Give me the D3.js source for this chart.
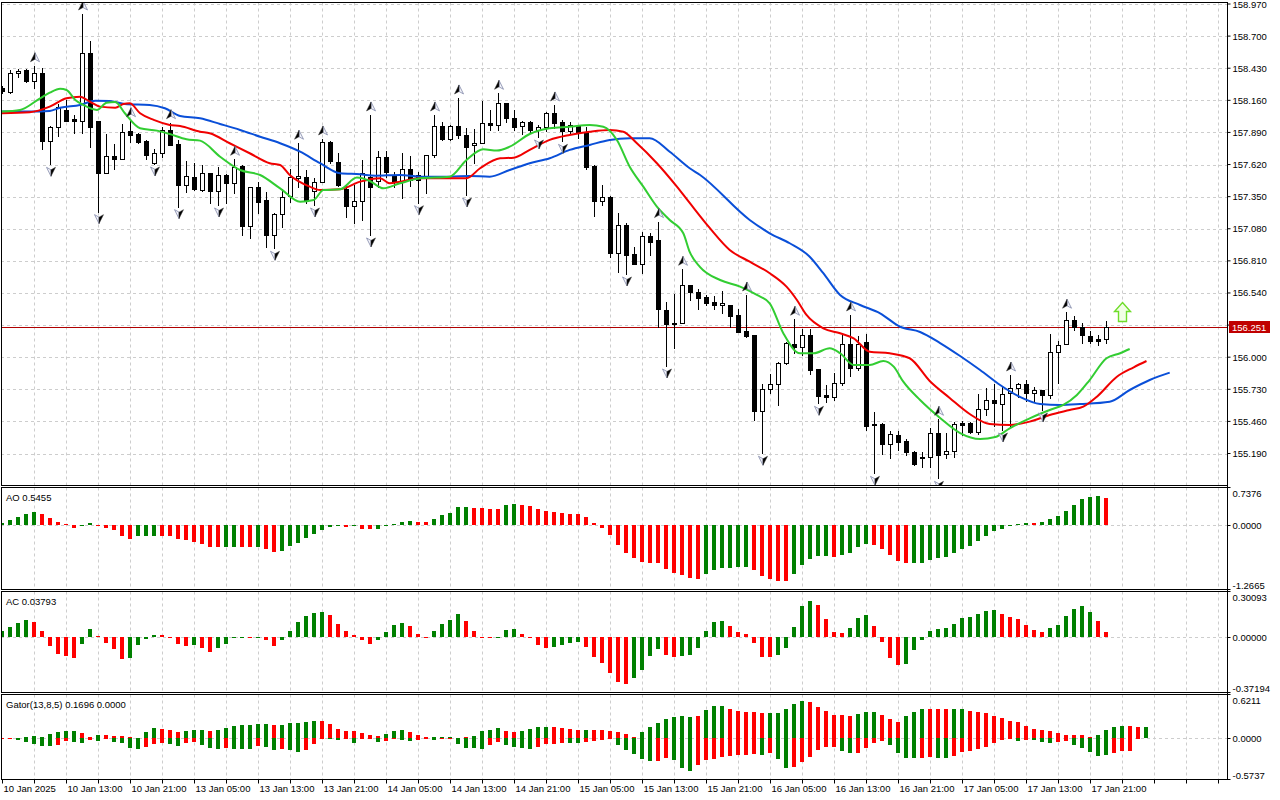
<!DOCTYPE html>
<html><head><meta charset="utf-8"><title>USDJPY H1 - Alligator, AO, AC, Gator</title>
<script src="https://cdn.jsdelivr.net/npm/d3@7/dist/d3.min.js"></script>
<style>
html,body{margin:0;padding:0;background:#fff;overflow:hidden}
text{font-family:"Liberation Sans",Arial,sans-serif;font-size:9.5px;fill:#000}
</style></head><body>
<svg id="chart" width="1280" height="800" xmlns="http://www.w3.org/2000/svg"></svg>
<script>
// ---------------- DATA ----------------
const timeLabels = ["10 Jan 2025","10 Jan 13:00","10 Jan 21:00","13 Jan 05:00","13 Jan 13:00","13 Jan 21:00",
  "14 Jan 05:00","14 Jan 13:00","14 Jan 21:00","15 Jan 05:00","15 Jan 13:00","15 Jan 21:00",
  "16 Jan 05:00","16 Jan 13:00","16 Jan 21:00","17 Jan 05:00","17 Jan 13:00","17 Jan 21:00"];
const timeLabelBars = [0,8,16,24,32,40,48,56,64,72,80,88,96,104,112,120,128,136];
const priceTicks = [158.970,158.700,158.430,158.160,157.890,157.620,157.350,157.080,156.810,156.540,156.270,156.000,155.730,155.460,155.190];
const lastPrice = 156.251;

const opens = [
 158.264,158.233,158.388,158.415,158.325,158.388,157.821,157.933,158.079,158.001,
 157.989,158.556,157.986,157.552,157.692,157.669,157.902,157.877,157.821,157.631,
 157.715,157.911,157.793,157.446,157.513,157.406,157.547,157.400,157.535,157.462,
 157.608,157.103,157.429,157.322,157.028,157.204,157.356,157.507,157.518,157.400,
 157.476,157.812,157.644,157.412,157.272,157.316,157.518,157.484,157.686,157.532,
 157.484,157.580,157.532,157.524,157.698,157.944,157.833,157.944,157.869,157.782,
 157.804,157.972,157.950,158.135,158.009,157.944,157.981,157.911,157.933,158.051,
 157.978,157.900,157.944,157.896,157.608,157.316,157.345,156.879,157.112,156.868,
 156.784,157.019,156.986,156.397,156.290,156.285,156.607,156.551,156.504,156.467,
 156.436,156.439,156.355,156.220,156.187,155.550,155.730,155.775,155.949,156.111,
 156.088,156.187,155.901,155.682,155.663,155.780,156.111,155.907,156.125,155.438,
 155.438,155.270,155.346,155.298,155.205,155.163,155.158,155.360,155.183,155.211,
 155.449,155.444,155.374,155.562,155.640,155.606,155.701,155.738,155.772,155.696,
 155.724,155.682,156.046,156.108,156.313,156.256,156.181,156.151,156.151];
const highs = [
 158.281,158.415,158.424,158.424,158.451,158.430,157.947,158.129,158.163,158.037,
 158.886,158.659,157.986,157.877,157.793,157.961,157.989,157.886,157.827,157.751,
 157.933,157.972,157.827,157.647,157.636,157.619,157.549,157.602,157.541,157.664,
 157.619,157.434,157.476,157.392,157.210,157.412,157.580,157.799,157.574,157.507,
 157.835,157.818,157.715,157.448,157.448,157.658,158.037,157.737,157.737,157.560,
 157.720,157.692,157.557,157.700,158.037,157.981,157.953,158.180,157.925,157.917,
 158.155,158.079,158.219,158.140,158.079,157.986,157.990,157.953,158.065,158.121,
 157.995,157.981,157.953,157.938,157.616,157.448,157.356,157.210,157.126,156.929,
 157.055,157.042,157.140,156.467,156.531,156.739,156.607,156.571,156.523,156.515,
 156.557,156.439,156.403,156.523,156.187,155.775,155.859,155.962,156.128,156.319,
 156.235,156.235,155.901,155.766,155.870,156.187,156.355,156.178,156.195,155.542,
 155.447,155.382,155.382,155.310,155.211,155.205,155.402,155.478,155.360,155.458,
 155.463,155.458,155.688,155.738,155.772,155.749,155.850,155.780,155.808,155.747,
 155.724,156.195,156.139,156.378,156.346,156.285,156.223,156.187,156.307];
const lows = [
 158.222,158.224,158.354,158.317,158.261,157.748,157.622,157.863,157.986,157.888,
 157.883,157.765,157.224,157.547,157.580,157.664,157.812,157.799,157.664,157.625,
 157.686,157.785,157.266,157.389,157.406,157.400,157.300,157.280,157.294,157.383,
 157.028,157.005,157.210,156.930,156.916,157.097,157.308,157.434,157.297,157.280,
 157.473,157.633,157.440,157.182,157.126,157.154,157.028,157.434,157.518,157.434,
 157.336,157.440,157.299,157.378,157.686,157.827,157.827,157.841,157.364,157.631,
 157.802,157.911,157.911,157.981,157.911,157.877,157.883,157.852,157.905,157.928,
 157.815,157.888,157.841,157.580,157.187,157.280,156.840,156.719,156.700,156.780,
 156.706,156.859,156.251,155.926,156.075,156.285,156.481,156.403,156.439,156.403,
 156.369,156.256,156.214,156.172,155.472,155.192,155.701,155.598,155.943,156.033,
 156.018,155.859,155.612,155.626,155.640,155.766,155.842,155.892,155.388,155.023,
 155.186,155.150,155.220,155.178,155.093,155.079,155.079,154.981,155.150,155.158,
 155.346,155.360,155.354,155.514,155.424,155.388,155.415,155.668,155.634,155.634,
 155.556,155.654,155.780,156.108,156.229,156.122,156.122,156.102,156.122];
const closes = [
 158.239,158.388,158.409,158.325,158.388,157.821,157.933,158.102,157.989,157.989,
 158.556,157.938,157.552,157.692,157.669,157.896,157.869,157.810,157.703,157.715,
 157.911,157.787,157.446,157.524,157.412,157.547,157.400,157.530,157.462,157.602,
 157.103,157.429,157.308,157.028,157.204,157.350,157.518,157.524,157.322,157.476,
 157.812,157.653,157.448,157.274,157.316,157.547,157.434,157.686,157.560,157.484,
 157.580,157.490,157.490,157.698,157.944,157.833,157.944,157.869,157.770,157.799,
 157.967,157.950,158.135,158.009,157.938,157.981,157.911,157.936,158.051,157.972,
 157.905,157.953,157.888,157.597,157.316,157.345,156.879,157.112,156.859,156.784,
 157.019,156.971,156.403,156.279,156.279,156.607,156.551,156.495,156.458,156.439,
 156.453,156.346,156.214,156.178,155.550,155.730,155.775,155.949,156.117,156.088,
 156.187,155.892,155.674,155.663,155.780,156.111,155.907,156.111,155.424,155.427,
 155.270,155.354,155.289,155.200,155.099,155.155,155.360,155.177,155.211,155.438,
 155.432,155.374,155.562,155.640,155.612,155.690,155.738,155.772,155.696,155.724,
 155.682,156.046,156.103,156.313,156.256,156.187,156.136,156.136,156.251];

const upFractals = [4,10,16,21,29,37,40,46,54,57,62,69,82,85,93,99,106,117,126,133];
const downFractals = [6,12,19,22,27,34,39,46,52,58,67,70,78,83,95,102,109,117,125,130];
const signalArrow = {bar:140, price:156.38};

// Alligator lines: [bar position, price]
const jawLine = [[-0.3,158.065],[3.4,158.065],[5.9,158.071],[7.2,158.098],[9.7,158.121],[11.6,158.157],[13.4,158.155],[15.3,158.129],[18.4,158.121],[20.3,158.093],[22.2,158.028],[24.7,158.009],[27.2,157.961],[29.7,157.911],[32.2,157.854],[34.7,157.799],[37.2,157.728],[39.7,157.631],[42.2,157.547],[44.7,157.538],[46.6,157.526],[49.7,157.532],[52.2,157.518],[55.9,157.518],[58.4,157.524],[60.9,157.518],[63.4,157.574],[65.9,157.631],[68.4,157.673],[70.9,157.743],[73.4,157.785],[75.9,157.827],[78.4,157.841],[80.9,157.841],[83.4,157.728],[85.9,157.589],[87.2,157.532],[93.4,157.154],[95.9,157.042],[98.4,156.958],[100.9,156.845],[102.6,156.706],[104.7,156.523],[107.2,156.439],[109.7,156.369],[112.2,156.256],[114.7,156.212],[117.2,156.119],[119.7,156.010],[122.2,155.892],[124.7,155.766],[127.2,155.665],[129.7,155.606],[132.2,155.598],[134.7,155.606],[138.4,155.626],[140.9,155.724],[143.4,155.808],[145.9,155.870]];
const teethLine = [[-0.3,158.051],[3.4,158.060],[5.9,158.107],[8.0,158.177],[9.7,158.191],[10.9,158.149],[12.2,158.107],[14.1,158.098],[15.1,158.129],[15.9,158.135],[17.2,158.051],[18.9,157.995],[20.9,157.953],[22.2,157.944],[24.7,157.896],[25.9,157.883],[28.4,157.799],[30.9,157.715],[33.4,157.631],[34.7,157.616],[35.9,157.532],[38.4,157.434],[39.7,157.406],[42.2,157.412],[44.7,157.476],[47.2,157.505],[48.4,157.462],[49.7,157.476],[52.2,157.505],[58.0,157.505],[59.7,157.589],[62.2,157.673],[63.9,157.678],[65.9,157.743],[68.4,157.827],[70.9,157.869],[73.4,157.896],[75.9,157.911],[77.6,157.896],[79.3,157.799],[81.8,157.631],[84.3,157.434],[85.9,157.297],[88.4,157.087],[90.9,156.902],[93.4,156.803],[95.9,156.706],[98.0,156.593],[99.3,156.481],[100.5,156.355],[102.6,156.243],[104.7,156.201],[106.4,156.159],[108.4,156.046],[110.9,156.033],[113.4,155.991],[115.9,155.800],[118.4,155.657],[120.9,155.522],[123.4,155.438],[125.9,155.430],[128.4,155.458],[130.9,155.514],[133.4,155.556],[135.1,155.584],[136.8,155.668],[139.3,155.836],[141.4,155.915],[143.0,155.968]];
const lipsLine = [[-0.3,158.065],[2.2,158.079],[4.7,158.177],[5.9,158.224],[7.2,158.258],[8.0,158.247],[9.1,158.163],[10.1,158.121],[11.8,158.079],[13.0,158.140],[14.1,158.146],[15.3,158.051],[17.2,157.925],[19.3,157.905],[20.9,157.877],[23.0,157.833],[24.7,157.821],[27.2,157.686],[29.7,157.574],[32.2,157.532],[34.7,157.420],[37.2,157.308],[38.9,157.322],[40.1,157.406],[42.2,157.412],[44.3,157.510],[45.9,157.482],[47.6,157.420],[49.7,157.462],[52.2,157.505],[55.9,157.518],[58.0,157.658],[60.1,157.748],[61.8,157.737],[63.4,157.770],[65.9,157.877],[68.4,157.925],[70.9,157.938],[73.4,157.953],[75.1,157.938],[76.8,157.827],[78.4,157.602],[80.1,157.434],[81.8,157.266],[83.4,157.154],[85.1,157.042],[85.9,156.885],[87.2,156.758],[89.7,156.649],[92.2,156.593],[94.3,156.523],[95.9,156.453],[97.6,156.201],[99.7,156.033],[101.4,156.033],[103.4,156.075],[104.7,156.033],[106.4,155.934],[108.4,155.934],[110.1,155.968],[111.4,155.920],[112.6,155.794],[114.7,155.640],[117.2,155.489],[119.7,155.362],[122.2,155.312],[124.1,155.329],[125.9,155.402],[128.4,155.486],[130.9,155.556],[132.6,155.598],[134.3,155.682],[135.9,155.808],[138.0,155.991],[139.7,156.033],[140.9,156.069]];

// Awesome Oscillator
const aoValues = [
 0.03,0.087,0.147,0.22,0.247,0.22,0.127,0.06,0.007,-0.067,
 -0.005,0.04,-0.02,-0.06,-0.114,-0.227,-0.28,-0.234,-0.227,-0.227,
 -0.227,-0.227,-0.28,-0.314,-0.34,-0.38,-0.454,-0.454,-0.454,-0.44,
 -0.454,-0.454,-0.454,-0.481,-0.541,-0.521,-0.434,-0.361,-0.274,-0.194,
 -0.114,-0.053,-0.033,-0.053,-0.033,-0.08,-0.094,-0.094,-0.027,0.02,
 0.06,0.08,0.06,0.06,0.12,0.2,0.24,0.361,0.361,0.341,
 0.341,0.321,0.321,0.40,0.42,0.40,0.381,0.321,0.281,0.26,
 0.24,0.22,0.22,0.16,0.04,-0.06,-0.214,-0.401,-0.561,-0.661,
 -0.741,-0.762,-0.768,-0.882,-0.962,-1.002,-1.062,-1.082,-0.982,-0.902,
 -0.862,-0.862,-0.842,-0.842,-0.902,-1.022,-1.082,-1.122,-1.122,-0.995,
 -0.815,-0.695,-0.635,-0.635,-0.655,-0.615,-0.561,-0.454,-0.381,-0.414,
 -0.494,-0.615,-0.721,-0.775,-0.762,-0.762,-0.701,-0.675,-0.648,-0.574,
 -0.488,-0.434,-0.334,-0.234,-0.127,-0.094,-0.013,0.007,0.033,0.033,
 0.06,0.12,0.18,0.281,0.40,0.521,0.561,0.581,0.5455];
const aoColors = "gggggrrrrr"+"ggrrrrrggg"+"rrrrrrrrgg"+"rrgrrggggg"+"gggrgrrggg"+"ggrrgggggr"+"rrrggrrrrr"+"rrrrrrrrrr"+"rrrrrrrrgg"+"ggggrrrrrg"+"ggggrggggr"+"rrrrgggggg"+"gggggggggr"+"ggggggggr";

// Accelerator Oscillator
const acValues = [
 0.045,0.067,0.096,0.117,0.105,0.043,-0.058,-0.112,-0.126,-0.139,
 -0.045,0.052,0.007,-0.036,-0.079,-0.146,-0.139,-0.049,-0.009,0.016,
 0.016,-0.004,-0.045,-0.058,-0.052,-0.072,-0.099,-0.072,-0.045,-0.002,
 0.004,-0.007,0.001,-0.018,-0.058,-0.022,0.043,0.105,0.141,0.164,
 0.17,0.15,0.09,0.043,0.013,-0.022,-0.045,-0.022,0.036,0.083,
 0.096,0.076,0.022,0.004,0.043,0.09,0.117,0.157,0.11,0.043,
 -0.002,-0.007,-0.007,0.049,0.056,0.022,-0.004,-0.049,-0.072,-0.065,
 -0.052,-0.038,-0.031,-0.065,-0.132,-0.173,-0.24,-0.30,-0.314,-0.274,
 -0.22,-0.126,-0.079,-0.119,-0.132,-0.126,-0.119,-0.072,0.043,0.103,
 0.11,0.076,0.036,0.022,-0.036,-0.132,-0.132,-0.117,-0.072,0.07,
 0.211,0.245,0.218,0.123,0.036,0.029,0.063,0.13,0.15,0.076,
 -0.029,-0.137,-0.19,-0.177,-0.083,-0.022,0.043,0.056,0.063,0.09,
 0.13,0.137,0.157,0.177,0.184,0.157,0.137,0.123,0.083,0.049,
 0.036,0.063,0.083,0.144,0.191,0.211,0.17,0.11,0.03793];
const acColors = "ggggrrrrrr"+"ggrrrrgggg"+"rrrrgrrggg"+"grgrrggggg"+"grrrrrrggg"+"grrrggggrr"+"rrgggrrrrg"+"gggrrrrrrg"+"gggrrggggg"+"grrrrrrggg"+"ggrrrrgggr"+"rrrggggggg"+"gggggrrrrr"+"rggggggrrr";

// Gator oscillator (upper = |jaw-teeth|, lower = -|teeth-lips|)
const gatorUpper = [
 0.003,0.01,0.01,0.015,0.03,0.025,0.063,0.092,0.106,0.106,
 0.077,0.015,0.043,0.048,0.029,0.029,0.015,0.003,0.092,0.15,
 0.135,0.116,0.092,0.106,0.116,0.116,0.106,0.116,0.15,0.179,
 0.193,0.193,0.208,0.208,0.193,0.193,0.217,0.222,0.237,0.251,
 0.251,0.208,0.135,0.106,0.101,0.077,0.048,0.034,0.063,0.106,
 0.121,0.092,0.048,0.015,0.015,0.015,0.015,0.003,0.015,0.029,
 0.101,0.121,0.15,0.106,0.092,0.106,0.135,0.164,0.164,0.164,
 0.15,0.135,0.121,0.121,0.116,0.116,0.106,0.092,0.063,0.019,
 0.092,0.164,0.222,0.28,0.309,0.324,0.309,0.324,0.411,0.469,
 0.469,0.425,0.396,0.377,0.372,0.362,0.362,0.362,0.42,0.498,
 0.536,0.522,0.449,0.391,0.333,0.333,0.319,0.348,0.377,0.377,
 0.333,0.275,0.237,0.319,0.377,0.42,0.42,0.42,0.42,0.42,
 0.42,0.391,0.377,0.362,0.319,0.29,0.246,0.237,0.174,0.135,
 0.116,0.101,0.077,0.048,0.048,0.048,0.019,0.048,0.121,0.164,
 0.184,0.184,0.165,0.1696];
const gatorUpperColors = "rrgggggggg"+"rrgrrrrrgg"+"rrrgggrggg"+"ggggrggggg"+"rrrrrrrrgg"+"grrrgggrrg"+"gggrrggggr"+"rrrgrrrrrr"+"gggggggrggg".slice(0,10)+"grrrrrgggg"+"grrrrrrggg"+"rrrgggrrrg"+"grrrrrrrrr"+"rrrrrrrggg"+"grrg";
const gatorLower = [
 -0.003,-0.005,-0.024,-0.053,-0.082,-0.111,-0.111,-0.097,-0.039,-0.053,
 -0.068,-0.024,-0.039,-0.01,-0.053,-0.068,-0.14,-0.155,-0.126,-0.082,
 -0.068,-0.082,-0.111,-0.068,-0.053,-0.097,-0.14,-0.155,-0.14,-0.155,
 -0.155,-0.155,-0.111,-0.126,-0.169,-0.155,-0.16,-0.198,-0.169,-0.082,
 -0.005,-0.01,-0.024,-0.005,-0.068,-0.01,-0.015,-0.053,-0.039,-0.015,
 -0.024,-0.039,-0.024,-0.005,-0.024,-0.005,-0.005,-0.082,-0.14,-0.14,
 -0.155,-0.097,-0.053,-0.097,-0.126,-0.14,-0.155,-0.126,-0.082,-0.082,
 -0.068,-0.068,-0.068,-0.053,-0.039,-0.024,-0.01,-0.097,-0.169,-0.227,
 -0.30,-0.329,-0.329,-0.285,-0.314,-0.43,-0.473,-0.386,-0.314,-0.30,
 -0.271,-0.256,-0.242,-0.235,-0.227,-0.242,-0.213,-0.30,-0.43,-0.415,
 -0.343,-0.271,-0.169,-0.126,-0.126,-0.184,-0.213,-0.213,-0.14,-0.068,
 -0.039,-0.097,-0.213,-0.285,-0.285,-0.285,-0.271,-0.285,-0.285,-0.256,
 -0.198,-0.184,-0.155,-0.121,-0.068,-0.024,-0.01,-0.039,-0.024,-0.024,
 -0.053,-0.068,-0.053,-0.039,-0.097,-0.14,-0.198,-0.256,-0.242,-0.213,
 -0.183,-0.183,-0.005,0];
const gatorLowerColors = "rrgggggrrg"+"grgrggggrr"+"rggrrgggrg"+"ggrggrggrr"+"rggrgrrgrr"+"ggrrgrrggg"+"grrggggrrr"+"rggrrrrggg"+"ggrrgggrrr"+"rrrrrgrggr"+"rrrrrggrrr"+"rggggrrggr"+"rrrrrrrgrg"+"ggrrgggggrr".slice(0,10)+"rrrr";

// ---------------- CHART ----------------
const GREEN = "#008000", RED = "#ff0000";
const svg = d3.select("#chart");
const AX = 1227.5;
const panels = {
  main:  {top:2.5,   bottom:485.5},
  ao:    {top:487.5, bottom:589.5},
  ac:    {top:591.5, bottom:692.5},
  gator: {top:694.5, bottom:779.5}
};
const xS = d3.scaleLinear().domain([0,138]).range([2.5,1106.5]);
const yMain = d3.scaleLinear().domain([155.19,158.97]).range([453.5,4.0]);
const yAO = d3.scaleLinear().domain([-1.2665,0.7376]).range([588,488]);
const yAC = d3.scaleLinear().domain([-0.37194,0.30093]).range([692.5,592.5]);
const yG  = d3.scaleLinear().domain([-0.5737,0.6211]).range([778.5,695]);

const defs = svg.append("defs");
Object.entries(panels).forEach(([k,p])=>{
  defs.append("clipPath").attr("id","clip-"+k).append("rect")
    .attr("x",2).attr("y",p.top+0.5).attr("width",AX-2.5).attr("height",p.bottom-p.top-1);
});

// grid
const gridColor = "#cdcdcd";
const vIdx = d3.range(4,153,4);
Object.entries(panels).forEach(([k,p])=>{
  const g = svg.append("g").attr("clip-path",`url(#clip-${k})`);
  g.selectAll("line.v").data(vIdx).join("line")
    .attr("x1",d=>xS(d)).attr("x2",d=>xS(d))
    .attr("y1",p.top).attr("y2",p.bottom)
    .attr("stroke",gridColor).attr("stroke-dasharray","3,3");
});
const gMainGrid = svg.append("g").attr("clip-path","url(#clip-main)");
gMainGrid.selectAll("line").data(priceTicks).join("line")
  .attr("x1",1).attr("x2",AX)
  .attr("y1",d=>Math.round(yMain(d))+0.5).attr("y2",d=>Math.round(yMain(d))+0.5)
  .attr("stroke",gridColor).attr("stroke-dasharray","3,3");
[[yAO,"ao"],[yAC,"ac"],[yG,"gator"]].forEach(([ys,k])=>{
  svg.append("line").attr("x1",1).attr("x2",AX)
    .attr("y1",Math.round(ys(0))+0.5).attr("y2",Math.round(ys(0))+0.5)
    .attr("stroke",gridColor).attr("stroke-dasharray","3,3");
});

// ---- main panel ----
const gMain = svg.append("g").attr("clip-path","url(#clip-main)");
const candles = d3.range(opens.length).map(i=>({i,o:opens[i],h:highs[i],l:lows[i],c:closes[i]}));
// current price line
gMain.append("line").attr("x1",1).attr("x2",AX)
  .attr("y1",Math.round(yMain(lastPrice))+0.5).attr("y2",Math.round(yMain(lastPrice))+0.5)
  .attr("stroke","#b00000").attr("stroke-width",1);
gMain.selectAll("line.wick").data(candles).join("line").attr("class","wick")
  .attr("x1",d=>xS(d.i)).attr("x2",d=>xS(d.i))
  .attr("y1",d=>Math.round(yMain(d.h))).attr("y2",d=>Math.round(yMain(d.l))+1)
  .attr("stroke","#000").attr("stroke-width",1);
gMain.selectAll("rect.body").data(candles).join("rect").attr("class","body")
  .each(function(d){
    const sel = d3.select(this);
    const yo = Math.round(yMain(d.o)), yc = Math.round(yMain(d.c));
    if (d.c >= d.o) {
      sel.attr("x",xS(d.i)-2).attr("y",yc+0.5).attr("width",4).attr("height",Math.max(1,yo-yc))
        .attr("fill","#fff").attr("stroke","#000").attr("stroke-width",1);
    } else {
      sel.attr("x",xS(d.i)-2.5).attr("y",yo).attr("width",5).attr("height",Math.max(1,yc-yo)+1)
        .attr("fill","#000");
    }
  });

// alligator
const lineGen = d3.line().x(d=>xS(d[0])).y(d=>yMain(d[1])).curve(d3.curveMonotoneX);
[[jawLine,"#0a4fd8"],[teethLine,"#f00000"],[lipsLine,"#32cd32"]].forEach(([pts,col])=>{
  gMain.append("path").attr("d",lineGen(pts)).attr("fill","none")
    .attr("stroke",col).attr("stroke-width",2).attr("stroke-linejoin","round");
});

// fractal arrows
function upArrow(g, cx, tipY){
  const a = g.append("g").attr("transform",`translate(${cx+0.5},${tipY})`);
  a.append("path").attr("d","M0,0 L4.5,9 L0,6.5 Z").attr("fill","#f4f4fa").attr("stroke","#8088a8").attr("stroke-width",0.8);
  a.append("path").attr("d","M0,0 L-4.5,9 L0,6.5 Z").attr("fill","#000").attr("stroke","#333").attr("stroke-width",0.5);
}
function downArrow(g, cx, topY){
  const a = g.append("g").attr("transform",`translate(${cx+0.5},${topY})`);
  a.append("path").attr("d","M0,9 L-4.5,0 L0,2.5 Z").attr("fill","#f4f4fa").attr("stroke","#8088a8").attr("stroke-width",0.8);
  a.append("path").attr("d","M0,9 L4.5,0 L0,2.5 Z").attr("fill","#000").attr("stroke","#333").attr("stroke-width",0.5);
}
upFractals.forEach(i=>upArrow(gMain, xS(i), yMain(highs[i])-13));
downFractals.forEach(i=>downArrow(gMain, xS(i), yMain(lows[i])+3));

// signal arrow (hollow green up arrow)
{
  const cx = xS(signalArrow.bar), cy = yMain(signalArrow.price);
  gMain.append("path")
    .attr("transform",`translate(${cx},${cy})`)
    .attr("d","M0,-9.5 L8,-0.5 L4,-0.5 L4,9.5 L-4,9.5 L-4,-0.5 L-8,-0.5 Z")
    .attr("fill","#f2ffe6").attr("stroke","#6fdc2a").attr("stroke-width",1.4).attr("stroke-linejoin","miter");
}

// ---- oscillator panels ----
function histo(key, ys, vals, cols){
  const g = svg.append("g").attr("clip-path",`url(#clip-${key})`);
  const z = Math.round(ys(0));
  g.selectAll("rect").data(vals.map((v,i)=>({v,i,c:cols[i]}))).join("rect")
    .attr("x",d=>xS(d.i)-2.5).attr("width",4)
    .attr("y",d=> d.v>=0 ? Math.round(ys(d.v)) : z)
    .attr("height",d=> Math.max(d.v===0?0:1, Math.abs(Math.round(ys(d.v))-z)))
    .attr("fill",d=>d.c==="g"?GREEN:RED);
}
histo("ao", yAO, aoValues, aoColors);
histo("ac", yAC, acValues, acColors);
histo("gator", yG, gatorUpper, gatorUpperColors);
histo("gator", yG, gatorLower, gatorLowerColors);

// frames
Object.values(panels).forEach(p=>{
  svg.append("rect").attr("x",1.5).attr("y",p.top).attr("width",AX-1.5).attr("height",p.bottom-p.top)
    .attr("fill","none").attr("stroke","#000").attr("stroke-width",1);
});

// panel titles
svg.append("text").attr("x",6).attr("y",497).attr("dominant-baseline","central").text("AO 0.5455");
svg.append("text").attr("x",6).attr("y",601.5).attr("dominant-baseline","central").text("AC 0.03793");
svg.append("text").attr("x",6).attr("y",704.5).attr("dominant-baseline","central").text("Gator(13,8,5) 0.1696 0.0000");

// main price axis
const axR = d3.axisRight(yMain).tickValues(priceTicks).tickSize(3).tickPadding(2)
  .tickFormat(d3.format(".3f")).offset(0);
svg.append("g").attr("transform",`translate(${AX},0)`).call(axR)
  .call(g=>g.select(".domain").remove())
  .call(g=>g.selectAll("text").attr("dominant-baseline","central").attr("dy",null));

// sub-panel axis labels
function subAxis(ys, p, labels){
  const g = svg.append("g");
  const pos = [p.top, Math.round(ys(0))+0.5, p.bottom];
  const textY = [p.top+5.5, Math.round(ys(0))+0.5, p.bottom-4.5];
  labels.forEach((t,k)=>{
    g.append("line").attr("x1",AX).attr("x2",AX+3).attr("y1",pos[k]).attr("y2",pos[k]).attr("stroke","#000");
    g.append("text").attr("x",AX+5).attr("y",textY[k]).attr("dominant-baseline","central").text(t);
  });
}
subAxis(yAO, panels.ao, ["0.7376","0.0000","-1.2665"]);
subAxis(yAC, panels.ac, ["0.30093","0.00000","-0.37194"]);
subAxis(yG, panels.gator, ["0.6211","0.0000","-0.5737"]);

// right axis line
svg.append("line").attr("x1",AX).attr("x2",AX).attr("y1",2).attr("y2",780).attr("stroke","#000");

// current price label
{
  const yy = Math.round(yMain(lastPrice))+0.5;
  svg.append("rect").attr("x",AX+1.5).attr("y",yy-6.5).attr("width",41).attr("height",12).attr("fill","#c00000");
  svg.append("text").attr("x",AX+4.5).attr("y",yy).attr("dominant-baseline","central")
    .style("fill","#fff").text(d3.format(".3f")(lastPrice));
}

// time axis
const labelMap = new Map(timeLabelBars.map((b,k)=>[b,timeLabels[k]]));
const axB = d3.axisBottom(xS).tickValues(d3.range(0,153,4)).tickSize(4).tickPadding(2)
  .tickFormat(i=>labelMap.get(i)||"").offset(0);
svg.append("g").attr("transform",`translate(0,${panels.gator.bottom})`).call(axB)
  .call(g=>g.select(".domain").remove())
  .call(g=>g.selectAll("text").attr("text-anchor","start").attr("x",1));
</script>
</body></html>
